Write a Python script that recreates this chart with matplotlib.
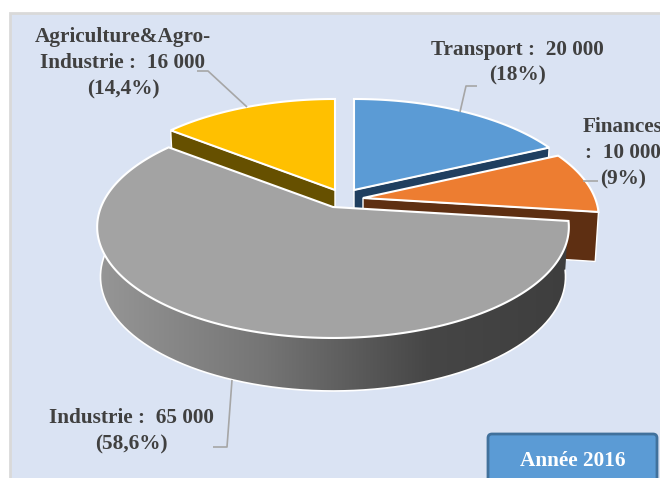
import numpy as np
import matplotlib
matplotlib.use("Agg")
import matplotlib.pyplot as plt
from matplotlib.patches import Polygon, Rectangle, FancyBboxPatch
from matplotlib.colors import LinearSegmentedColormap

categories = ["Transport", "Finances", "Industrie", "Agriculture&Agro-Industrie"]
values = [20000, 10000, 65000, 16000]
top_colors = ["#5B9BD5", "#ED7D31", "#A3A3A3", "#FFC000"]
side_colors = ["#1F3F60", "#5E2F12", "#444444", "#665000"]
apexes = [(354, 190), (363, 198), (333, 207), (335, 190)]
labels = ["Transport :  20 000\n(18%)",
          "Finances\n:  10 000\n(9%)",
          "Industrie :  65 000\n(58,6%)",
          "Agriculture&Agro-\nIndustrie :  16 000\n(14,4%)"]
label_pos = [(517, 62.5), (623, 153), (131, 431), (123, 63)]
leaders = [[(460, 112), (466, 86), (477, 86)],
           [(583, 181), (598, 181)],
           [(232, 380), (227, 447), (213, 447)],
           [(247, 107), (208, 71), (197, 71)]]
badge_text = "Année 2016"

RX, RY, K = 232.0, 107.4, 0.18
DEPTH, XSHRINK = 49.0, 0.986

plt.rcParams["font.family"] = ["Liberation Serif", "DejaVu Serif"]
fig = plt.figure(figsize=(6.6, 4.78), dpi=100, facecolor="white")
ax = fig.add_axes([0, 0, 1, 1])
ax.axis("off")


def project(theta, apex, lower=False):
    u, v = np.sin(theta), np.cos(theta)
    w = 1 + K * v
    x, y = RX * u / w, -RY * v / w
    if lower:
        y = y + DEPTH - 4 * v
        x = x * XSHRINK
    return apex[0] + x, apex[1] + y


ax.add_patch(Rectangle((10, 13), 660, 480, fc="#DAE3F3", ec="#D9D9D9", lw=2, zorder=0))

total = sum(values)
edges = np.concatenate([[0], np.cumsum(values)]) / total * 2 * np.pi
z = 2
order = [0, 3, 1, 2]
for i in order:
    a0, a1 = edges[i], edges[i + 1]
    apex = apexes[i]
    th = np.linspace(a0, a1, 200)
    x_t, y_t = project(th, apex)
    x_b, y_b = project(th, apex, lower=True)
    apex_low = (apex[0], apex[1] + DEPTH)
    # only the radial walls that face the viewer
    visible = []
    if 0 < a1 < np.pi:
        visible.append(a1)
    if np.pi < a0:
        visible.append(a0)
    for a in visible:
        xe, ye = project(a, apex)
        xl, yl = project(a, apex, lower=True)
        ax.add_patch(Polygon([apex, (xe, ye), (xl, yl), apex_low], closed=True,
                             fc=side_colors[i], ec="white", lw=1.0, zorder=z))
    # outer wall shows only when the slice spans the front of the pie
    if a0 < np.pi < a1:
        outer = np.column_stack([np.r_[x_t, x_b[::-1]], np.r_[y_t, y_b[::-1]]])
        cmap = LinearSegmentedColormap.from_list(
            "w", [(0, "#969696"), (0.35, "#757575"), (0.7, "#464646"), (1, "#3E3E3E")])
        grad = np.linspace(0, 1, 256)[None, :]
        im = ax.imshow(grad, cmap=cmap, extent=(98, 572, 400, 200), aspect="auto",
                       zorder=z + 0.1, interpolation="bilinear")
        clip = Polygon(outer, closed=True, transform=ax.transData, fc="none", ec="none")
        ax.add_patch(clip)
        im.set_clip_path(clip)
        ax.plot(x_b, y_b, color="white", lw=1.2, zorder=z + 0.2)
    # top face
    top = np.column_stack([np.r_[apex[0], x_t], np.r_[apex[1], y_t]])
    ax.add_patch(Polygon(top, closed=True, fc=top_colors[i], ec="white", lw=1.5,
                         joinstyle="miter", zorder=z + 0.3))
    z += 1

for pts in leaders:
    xs, ys = zip(*pts)
    ax.plot(xs, ys, color="#A6A6A6", lw=1.2, zorder=10, solid_capstyle="butt")

for txt, (x, y) in zip(labels, label_pos):
    ax.text(x, y, txt, ha="center", va="center", fontsize=15.3, fontweight="bold",
            color="#404040", linespacing=1.4, zorder=11)

ax.add_patch(FancyBboxPatch((488, 434), 169, 52, boxstyle="round,pad=0,rounding_size=4",
                            fc="#5B9BD5", ec="#41719C", lw=2, zorder=12))
ax.text(573, 461, badge_text, ha="center", va="center", fontsize=15.3, fontweight="bold",
        color="white", zorder=13)

ax.set_xlim(0, 660)
ax.set_ylim(478, 0)
fig.savefig("out.png", dpi=100)
